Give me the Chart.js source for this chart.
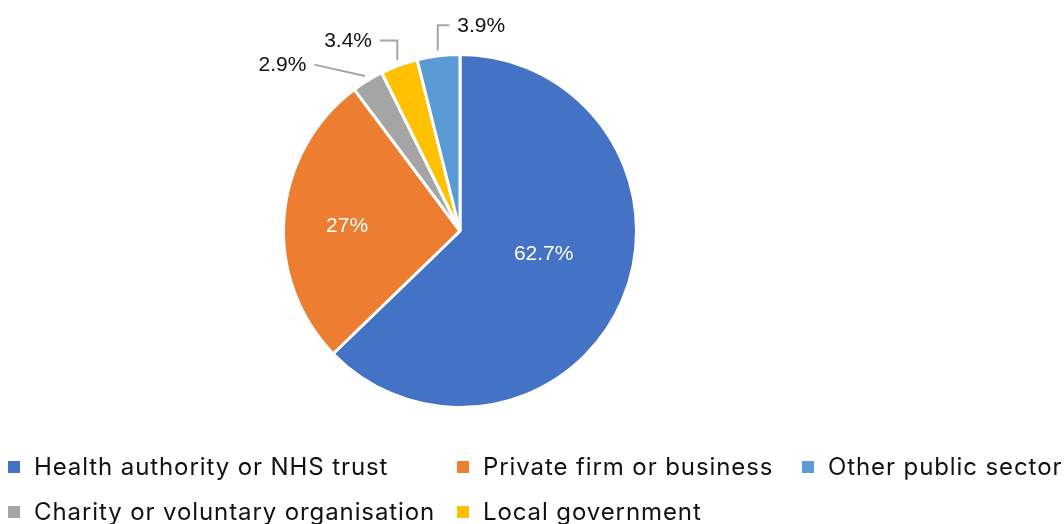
<!doctype html>
<html lang="en">
<head>
<meta charset="utf-8">
<title>Employer type</title>
<style>
  *{box-sizing:border-box;margin:0;padding:0}
  html,body{width:1064px;height:524px;background:#fff;overflow:hidden}
  .wrap{position:relative;width:1064px;height:524px}
  #pie{position:absolute;left:0;top:0}
  .legend{position:absolute;left:0;top:0;width:1064px;height:524px;pointer-events:none;
    font-family:Inter,sans-serif;font-size:24px;letter-spacing:0.9px;color:#111}
  .item{position:absolute;display:flex;align-items:center;white-space:nowrap;line-height:1}
  .item i{display:inline-block;width:12px;height:12px;margin-right:14px}
</style>
</head>
<body>
<div class="wrap">
  <canvas id="pie" width="1064" height="524"></canvas>
  <div class="legend" id="legend"></div>
</div>

<script src="https://cdn.jsdelivr.net/npm/chart.js"></script>
<script>
// slices, clockwise from 12 o'clock
const sectors = ['Health authority or NHS trust','Private firm or business','Charity or voluntary organisation','Local government','Other public sector'];
const shares  = [62.7, 27, 2.9, 3.4, 3.9];
const colours = ['#4472C4','#ED7D31','#A5A5A5','#FFC000','#5B9BD5'];
const valueLabels = ['62.7%','27%','2.9%','3.4%','3.9%'];
// legend reads row by row
const legendOrder = [0, 1, 4, 2, 3];

// where each label sits, in radius units from the pie centre
// outside labels get a grey leader back to the slice edge
const labelSpots = [
  {x: 0.474, y: 0.131, inside:true},
  {x:-0.64,  y:-0.026, inside:true},
  {x:-1.006, y:-0.937, leader:'straight'},
  {x:-0.634, y:-1.074, leader:'elbow'},
  {x: 0.12,  y:-1.16,  leader:'elbow'}
];

const pieLabels = { id:'pieLabels', afterDatasetsDraw(c){
  const {ctx} = c, arcs = c.getDatasetMeta(0).data;
  ctx.save();
  ctx.font = '21px "Liberation Sans", Arial, sans-serif';
  ctx.textAlign = 'center'; ctx.textBaseline = 'middle';
  arcs.forEach((a, i) => {
    const {x:cx, y:cy, outerRadius:r, startAngle, endAngle} = a;
    const s = labelSpots[i], t = valueLabels[i];
    const lx = cx + s.x*r, ly = cy + s.y*r;
    if (s.inside){
      ctx.fillStyle = '#fff'; ctx.fillText(t, lx, ly); return;
    }
    ctx.fillStyle = '#111'; ctx.fillText(t, lx, ly);
    const mid = (startAngle + endAngle)/2;
    const ex = cx + Math.cos(mid)*r*1.03, ey = cy + Math.sin(mid)*r*1.03;
    const w = ctx.measureText(t).width;
    const side = ex < lx ? -1 : 1;
    const sx = lx + side*(w/2 + 8);
    ctx.strokeStyle = '#a6a6a6'; ctx.lineWidth = 2;
    ctx.beginPath(); ctx.moveTo(sx, ly - 1);
    if (s.leader === 'elbow'){ ctx.lineTo(ex, ly - 1); ctx.lineTo(ex, ey); }
    else ctx.lineTo(ex, ey);
    ctx.stroke();
  });
  ctx.restore();
}};

new Chart(document.getElementById('pie'), {
  type:'pie',
  data:{ labels:sectors, datasets:[{ data:shares, backgroundColor:colours, borderColor:'#fff', borderWidth:3 }] },
  options:{
    responsive:false, animation:false,
    layout:{ padding:{ left:282, right:426, top:53, bottom:115 } },
    plugins:{ legend:{display:false}, tooltip:{enabled:false} }
  },
  plugins:[pieLabels]
});

// legend grid: three columns, two rows
const colX = [8, 457, 802], rowY = [467, 512];
const lg = document.getElementById('legend');
legendOrder.forEach((k, n) => {
  const d = document.createElement('div');
  d.className = 'item';
  d.style.left = colX[n % 3] + 'px';
  d.style.top = (rowY[Math.floor(n / 3)] - 12) + 'px';
  d.innerHTML = `<i style="background:${colours[k]}"></i>${sectors[k]}`;
  lg.appendChild(d);
});
</script>
</body>
</html>
